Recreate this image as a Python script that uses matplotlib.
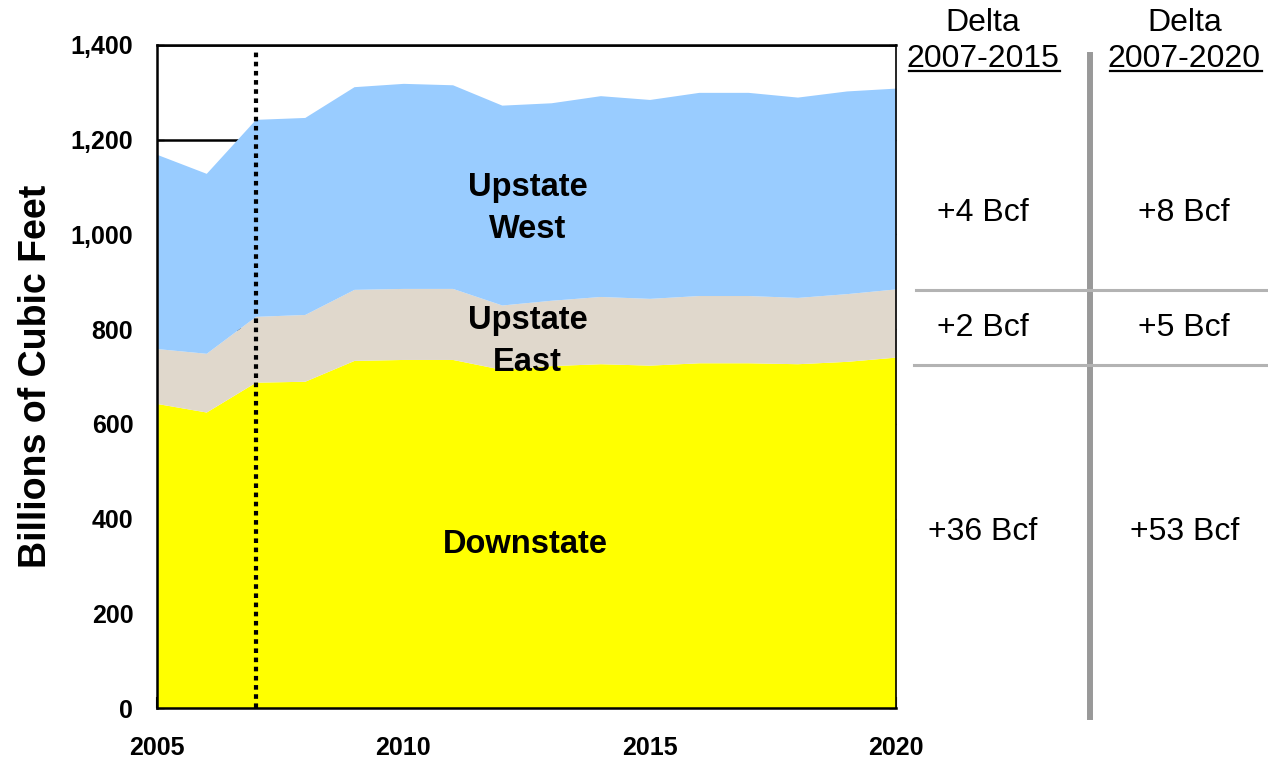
import numpy as np
import matplotlib as mpl
mpl.use('Agg')
import matplotlib.pyplot as plt
from matplotlib.lines import Line2D
from matplotlib.ticker import FuncFormatter, MultipleLocator

plt.rcParams['font.family'] = ['Liberation Sans', 'DejaVu Sans']

# ---- data (Bcf) ----
years = list(range(2005, 2021))
downstate = [643, 625, 688, 690, 734, 736, 736, 715, 723, 727, 724, 729, 729, 727, 732, 741]
upstate_east = [116, 124, 139, 141, 150, 150, 150, 136, 138, 142, 141, 142, 142, 140, 143, 144]
upstate_west = [410, 380, 416, 416, 428, 433, 430, 422, 417, 424, 420, 429, 429, 423, 428, 424]

region_labels = ['Downstate', 'Upstate\nEast', 'Upstate\nWest']
delta_headers = ['Delta\n2007-2015', 'Delta\n2007-2020']
delta_2015 = ['+4 Bcf', '+2 Bcf', '+36 Bcf']
delta_2020 = ['+8 Bcf', '+5 Bcf', '+53 Bcf']
base_year = 2007

colours = ['#FFFF00', '#E0D8CC', '#99CCFF']

#====================================================================#

fig = plt.figure(figsize=(12.68, 7.6), dpi=100)
ax = fig.add_axes([0.1238, 0.0684, 0.7066 - 0.1238, 0.9408 - 0.0684])

x = np.array(years)
d = np.array(downstate)
e = d + np.array(upstate_east)
w = e + np.array(upstate_west)

ax.fill_between(x, 0, d, color=colours[0], lw=0, zorder=2)
ax.fill_between(x, d, e, color=colours[1], lw=0, zorder=2)
ax.fill_between(x, e, w, color=colours[2], lw=0, zorder=2)

# gridlines sit behind the fills, only the 1,200 one peeks out
ax.set_axisbelow(True)
ax.yaxis.grid(True, color='black', lw=1.8)

ax.axvline(base_year, ymax=0.995, color='black', lw=3,
           linestyle=(0, (1.1, 1.1)), zorder=3)

ax.set_xlim(2005, 2020)
ax.set_ylim(0, 1400)
ax.xaxis.set_major_locator(MultipleLocator(5))
ax.xaxis.set_minor_locator(MultipleLocator(1))
ax.yaxis.set_major_locator(MultipleLocator(200))
ax.yaxis.set_major_formatter(FuncFormatter(lambda v, p: '{:,.0f}'.format(v)))

ax.tick_params(axis='x', which='both', direction='in', length=8, width=1.5,
               labelsize=18, pad=20)
ax.tick_params(axis='y', which='major', direction='in', length=5, width=1,
               right=True, labelsize=18, pad=17)
for lab in ax.get_xticklabels() + ax.get_yticklabels():
    lab.set_fontweight('bold')

for side in ['left', 'top', 'bottom']:
    ax.spines[side].set_linewidth(1.8)
ax.spines['right'].set_linewidth(1.2)
for s in ax.spines.values():
    s.set_zorder(4)

fig.text(0.028, 0.505, 'Billions of Cubic Feet', rotation=90, fontsize=27,
         fontweight='bold', ha='center', va='center')

# region labels
ax.text(2012.52, 1055, region_labels[2], ha='center', va='center', fontsize=23.5,
        fontweight='bold', linespacing=1.45, zorder=5)
ax.text(2012.52, 774, region_labels[1], ha='center', va='center', fontsize=23.5,
        fontweight='bold', linespacing=1.45, zorder=5)
ax.text(2012.48, 345, region_labels[0], ha='center', va='center', fontsize=23.5,
        fontweight='bold', zorder=5)

# ---- delta table on the right ----
col_x = [0.7750, 0.9340]
row_y = [0.7197, 0.568, 0.3]

for cx, head in zip(col_x, delta_headers):
    top, bottom = head.split('\n')
    fig.text(cx, 0.970, top, ha='center', va='center', fontsize=23)
    fig.text(cx, 0.922, bottom, ha='center', va='center', fontsize=23)

fig.add_artist(Line2D([0.717, 0.836], [0.907, 0.907], color='black', lw=1.6))
fig.add_artist(Line2D([0.875, 0.995], [0.907, 0.907], color='black', lw=1.6))

fig.add_artist(Line2D([0.8596, 0.8596], [0.928, 0.057], color='#999999', lw=4.3))
fig.add_artist(Line2D([0.7224, 1.0], [0.618, 0.618], color='#B3B3B3', lw=2.2))
fig.add_artist(Line2D([0.7208, 1.0], [0.5197, 0.5197], color='#B3B3B3', lw=2.2))

for ry, a, b in zip(row_y, delta_2015, delta_2020):
    fig.text(col_x[0], ry, a, ha='center', va='center', fontsize=23)
    fig.text(col_x[1], ry, b, ha='center', va='center', fontsize=23)

plt.savefig('out.png', dpi=100)
